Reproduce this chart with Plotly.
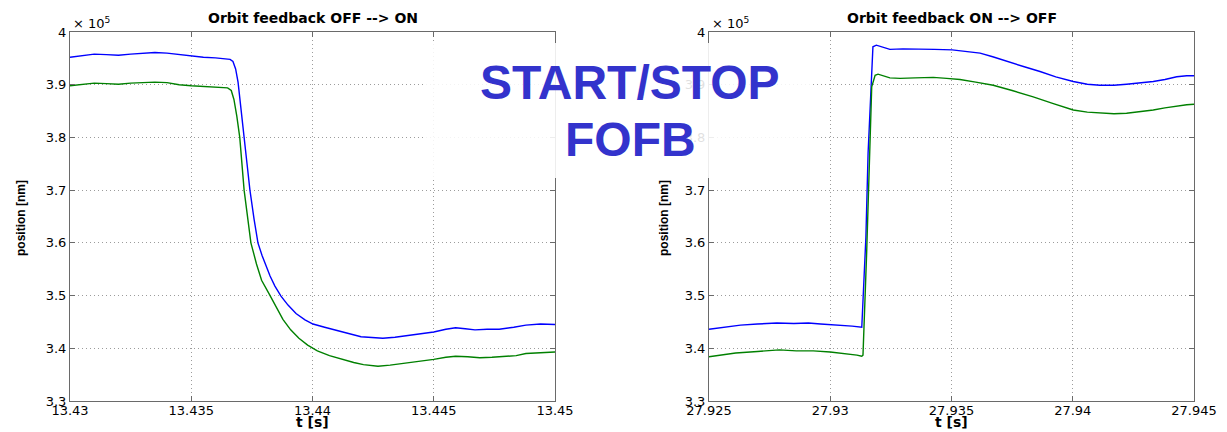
import plotly.graph_objects as go

W, H = 1227, 432

# ---- Orbit feedback OFF --> ON (position in units of 1e5 nm) ----
t_on_blue = [13.4300, 13.4305, 13.4310, 13.4315, 13.4320, 13.4325, 13.4330, 13.4335,
             13.4340, 13.4345, 13.4350, 13.4355, 13.4360, 13.43660, 13.43672, 13.43683,
             13.43693, 13.43705, 13.43718, 13.43730, 13.43742, 13.43759, 13.43775,
             13.43792, 13.43808, 13.43825, 13.43845, 13.43870, 13.43899, 13.43932,
             13.43969, 13.44002, 13.44050, 13.44100, 13.44150, 13.44200, 13.44260,
             13.44290, 13.44340, 13.44390, 13.44450, 13.44500, 13.44550, 13.44590,
             13.44630, 13.44670, 13.44720, 13.44770, 13.44830, 13.44880, 13.44940,
             13.45000]
pos_on_blue = [3.952, 3.955, 3.958, 3.957, 3.956, 3.958, 3.959, 3.961,
               3.960, 3.957, 3.954, 3.952, 3.951, 3.948, 3.944, 3.930,
               3.905, 3.860, 3.800, 3.750, 3.700, 3.645, 3.600,
               3.576, 3.555, 3.537, 3.518, 3.499, 3.482, 3.466,
               3.454, 3.446, 3.440, 3.434, 3.427, 3.422, 3.420,
               3.419, 3.421, 3.424, 3.427, 3.431, 3.436, 3.439,
               3.437, 3.435, 3.436, 3.436, 3.440, 3.444, 3.446,
               3.445]

t_on_green = [13.4300, 13.4305, 13.4310, 13.4315, 13.4320, 13.4325, 13.4330, 13.4335,
              13.4340, 13.4345, 13.4350, 13.4355, 13.4360, 13.43650, 13.43665, 13.43676,
              13.43688, 13.43700, 13.43718, 13.43732, 13.43746, 13.43769, 13.43790,
              13.43820, 13.43850, 13.43878, 13.43910, 13.43944, 13.43980, 13.44020,
              13.44070, 13.44130, 13.44170, 13.44210, 13.44270, 13.44320, 13.44370,
              13.44430, 13.44500, 13.44550, 13.44590, 13.44640, 13.44690, 13.44740,
              13.44790, 13.44840, 13.44880, 13.44940, 13.45000]
pos_on_green = [3.898, 3.901, 3.903, 3.902, 3.901, 3.903, 3.904, 3.905,
                3.904, 3.900, 3.898, 3.897, 3.896, 3.894, 3.889, 3.872,
                3.840, 3.800, 3.700, 3.648, 3.600, 3.560, 3.529,
                3.504, 3.479, 3.455, 3.435, 3.419, 3.406, 3.395,
                3.386, 3.378, 3.373, 3.369, 3.366, 3.368, 3.371,
                3.374, 3.379, 3.383, 3.385, 3.384, 3.382, 3.383,
                3.384, 3.386, 3.390, 3.392, 3.393]

# ---- Orbit feedback ON --> OFF ----
t_off_blue = [27.9250, 27.9256, 27.9263, 27.9270, 27.9278, 27.9285, 27.9291, 27.9296,
              27.9300, 27.9305, 27.9309, 27.9313, 27.93147, 27.93156, 27.93167,
              27.93176, 27.93190, 27.93205, 27.93246, 27.93300, 27.93357, 27.93430,
              27.93503, 27.93560, 27.93618, 27.93670, 27.93728, 27.93800, 27.93865,
              27.93930, 27.94002, 27.94060, 27.94112, 27.94170, 27.94222, 27.94280,
              27.94332, 27.94380, 27.94429, 27.94470, 27.94500]
pos_off_blue = [3.436, 3.440, 3.444, 3.446, 3.448, 3.447, 3.448, 3.446,
                3.445, 3.444, 3.442, 3.440, 3.611, 3.770, 3.896,
                3.972, 3.975, 3.973, 3.967, 3.968, 3.967, 3.967,
                3.966, 3.963, 3.960, 3.953, 3.944, 3.934, 3.925,
                3.915, 3.906, 3.901, 3.899, 3.899, 3.901, 3.903,
                3.906, 3.910, 3.915, 3.917, 3.917]

t_off_green = [27.9250, 27.9256, 27.9261, 27.9270, 27.9279, 27.9286, 27.9293, 27.9300,
               27.9306, 27.9311, 27.9313, 27.93135, 27.93150, 27.93161, 27.93171,
               27.93185, 27.93197, 27.93246, 27.93288, 27.93350, 27.93425, 27.93480,
               27.93535, 27.93600, 27.93672, 27.93750, 27.93837, 27.93920, 27.94002,
               27.94060, 27.94112, 27.94170, 27.94222, 27.94280, 27.94332, 27.94380,
               27.94429, 27.94470, 27.94500]
pos_off_green = [3.384, 3.388, 3.391, 3.394, 3.397, 3.395, 3.395, 3.393,
                 3.390, 3.387, 3.385, 3.387, 3.580, 3.770, 3.896,
                 3.918, 3.920, 3.913, 3.912, 3.913, 3.914, 3.912,
                 3.910, 3.905, 3.899, 3.889, 3.877, 3.864, 3.852,
                 3.848, 3.846, 3.845, 3.846, 3.849, 3.852, 3.856,
                 3.860, 3.862, 3.863]

x_ticks_on = [13.43, 13.435, 13.44, 13.445, 13.45]
x_labels_on = ["13.43", "13.435", "13.44", "13.445", "13.45"]
x_ticks_off = [27.925, 27.93, 27.935, 27.94, 27.945]
x_labels_off = ["27.925", "27.93", "27.935", "27.94", "27.945"]
y_ticks = [3.3, 3.4, 3.5, 3.6, 3.7, 3.8, 3.9, 4.0]
y_labels = ["3.3", "3.4", "3.5", "3.6", "3.7", "3.8", "3.9", "4"]

panel_titles = ["Orbit feedback OFF --> ON", "Orbit feedback ON --> OFF"]
x_title = "t [s]"
y_title = "position [nm]"
banner = ["START/STOP", "FOFB"]

BLUE = "#0000ff"
GREEN = "#008000"


def px(x):
    return x / W


def py(y):
    return 1 - y / H


fig = go.Figure()
series = [
    (t_on_blue, pos_on_blue, BLUE, "x", "y"),
    (t_on_green, pos_on_green, GREEN, "x", "y"),
    (t_off_blue, pos_off_blue, BLUE, "x2", "y2"),
    (t_off_green, pos_off_green, GREEN, "x2", "y2"),
]
for tx, vy, col, xa, ya in series:
    fig.add_trace(go.Scatter(x=tx, y=vy, mode="lines", xaxis=xa, yaxis=ya,
                             line=dict(color=col, width=1.4), hoverinfo="skip"))

tick_font = dict(family="DejaVu Sans", size=13, color="#000000")
common = dict(showline=True, linecolor="#6a6a6a", linewidth=1, mirror="allticks",
              ticks="inside", ticklen=5, tickcolor="#6a6a6a",
              showgrid=True, gridcolor="#9c9c9c", griddash="1px,3px", gridwidth=1,
              zeroline=False, automargin=False, tickfont=tick_font)

x_dom_l = [px(70), px(555)]
x_dom_r = [px(709), px(1194)]
y_dom = [py(401), py(32)]

fig.update_layout(
    width=W, height=H,
    margin=dict(l=0, r=0, t=0, b=0),
    paper_bgcolor="white", plot_bgcolor="white",
    showlegend=False,
    xaxis=dict(domain=x_dom_l, anchor="y", range=[13.43, 13.45], ticklabelstandoff=-3,
               tickvals=x_ticks_on, ticktext=x_labels_on, **common),
    yaxis=dict(domain=y_dom, anchor="x", range=[3.3, 4.0],
               tickvals=y_ticks, ticktext=y_labels, **common),
    xaxis2=dict(domain=x_dom_r, anchor="y2", range=[27.925, 27.945], ticklabelstandoff=-3,
                tickvals=x_ticks_off, ticktext=x_labels_off, **common),
    yaxis2=dict(domain=y_dom, anchor="x2", range=[3.3, 4.0],
                tickvals=y_ticks, ticktext=y_labels, **common),
)

# white panel behind the banner text
fig.add_shape(type="rect", xref="paper", yref="paper",
              x0=px(425), x1=px(810), y0=py(178), y1=py(43),
              fillcolor="white", opacity=0.88, line=dict(width=0), layer="above")

title_font = dict(family="DejaVu Sans", size=14, color="#000000", weight="bold")
ann = []
for dom, ttl, ylab_x in [(x_dom_l, panel_titles[0], 21), (x_dom_r, panel_titles[1], 664)]:
    cx = (dom[0] + dom[1]) / 2
    ann.append(dict(text=ttl, x=cx, y=py(18), xref="paper", yref="paper",
                    xanchor="center", yanchor="middle", showarrow=False, font=title_font))
    ann.append(dict(text=x_title, x=cx, y=py(422), xref="paper", yref="paper",
                    xanchor="center", yanchor="middle", showarrow=False, font=title_font))
    ann.append(dict(text=y_title, x=px(ylab_x), y=py(218), xref="paper", yref="paper",
                    xanchor="center", yanchor="middle", textangle=-90, showarrow=False,
                    font=dict(family="Liberation Sans", size=12, color="#000000", weight="bold")))
    ann.append(dict(text="\u00d7 10<sup>5</sup>", x=dom[0] + px(1), y=py(23), xref="paper",
                    yref="paper", xanchor="left", yanchor="middle", showarrow=False,
                    font=dict(family="DejaVu Sans", size=13, color="#000000")))

banner_font = dict(family="Liberation Sans", size=48, color="#3333cc", weight="bold")
ann.append(dict(text=banner[0], x=px(630), y=py(82), xref="paper", yref="paper",
                xanchor="center", yanchor="middle", showarrow=False, font=banner_font))
ann.append(dict(text=banner[1], x=px(630), y=py(139), xref="paper", yref="paper",
                xanchor="center", yanchor="middle", showarrow=False, font=banner_font))
fig.update_layout(annotations=ann)

fig.write_html("out.html")
